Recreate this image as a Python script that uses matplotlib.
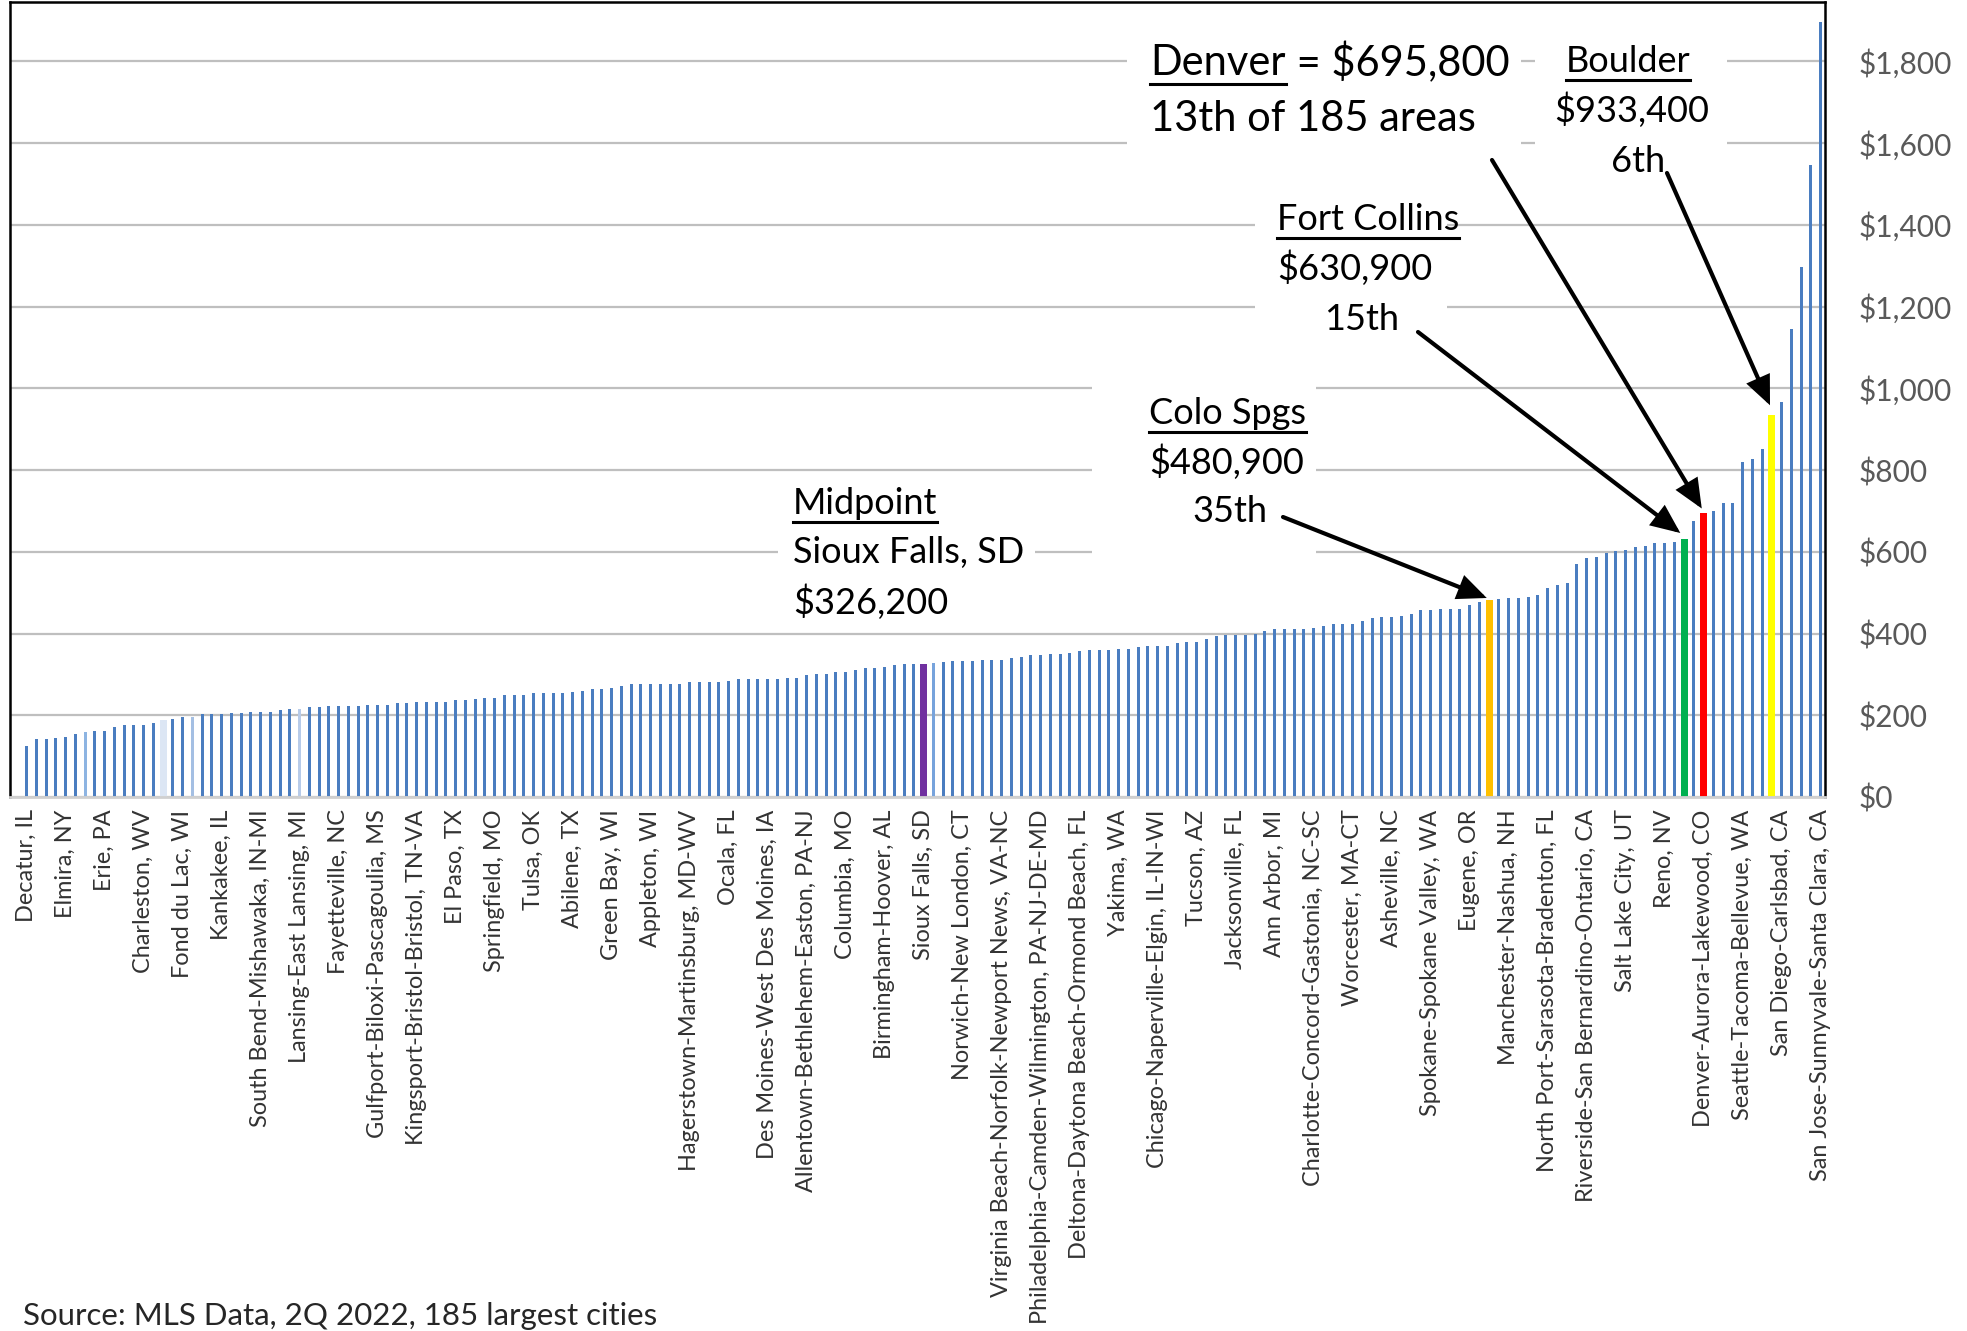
import matplotlib
matplotlib.use("Agg")
import matplotlib.pyplot as plt
from matplotlib.patches import Rectangle
from matplotlib.lines import Line2D
from matplotlib.ticker import FuncFormatter
import numpy as np

plt.rcParams['font.family'] = ['Lato', 'DejaVu Sans']

# Median home price by metro area, $ thousands, sorted low to high (185 areas)
median_price_k = [
    125, 141, 141, 145, 148, 155, 158, 161, 161, 172,
    175, 175, 175, 182, 188, 192, 196, 196, 202, 202,
    202, 205, 205, 209, 209, 209, 212, 216, 216, 219,
    219, 222, 222, 222, 222, 226, 226, 226, 229, 229,
    233, 233, 233, 233, 237, 237, 240, 243, 243, 250,
    250, 250, 254, 254, 254, 254, 257, 260, 264, 264,
    267, 271, 277, 277, 277, 277, 277, 277, 281, 281,
    281, 281, 285, 288, 288, 288, 288, 288, 291, 291,
    298, 302, 302, 305, 305, 311, 315, 315, 318, 322,
    325, 325, 326.2, 328, 330, 332, 332, 332, 335, 335,
    335, 339, 343, 347, 347, 350, 350, 353, 356, 360,
    360, 360, 363, 363, 366, 369, 369, 369, 377, 380,
    380, 386, 394, 397, 397, 397, 400, 407, 410, 410,
    410, 410, 414, 418, 424, 424, 424, 431, 438, 441,
    441, 444, 448, 457, 457, 461, 461, 461, 470, 478,
    480.9, 484, 486, 488, 490, 493, 512, 519, 523, 570,
    584, 588, 598, 601, 604, 611, 615, 621, 621, 625,
    630.9, 676, 695.8, 700, 720, 720, 820, 826, 851, 933.4,
    967, 1144, 1297, 1546, 1897,
]

# Every fourth area is named on the category axis
area_labels = [
    "Decatur, IL", "Elmira, NY", "Erie, PA", "Charleston, WV", "Fond du Lac, WI",
    "Kankakee, IL", "South Bend-Mishawaka, IN-MI", "Lansing-East Lansing, MI",
    "Fayetteville, NC", "Gulfport-Biloxi-Pascagoulia, MS", "Kingsport-Bristol-Bristol, TN-VA",
    "El Paso, TX", "Springfield, MO", "Tulsa, OK", "Abilene, TX", "Green Bay, WI",
    "Appleton, WI", "Hagerstown-Martinsburg, MD-WV", "Ocala, FL",
    "Des Moines-West Des Moines, IA", "Allentown-Bethlehem-Easton, PA-NJ", "Columbia, MO",
    "Birmingham-Hoover, AL", "Sioux Falls, SD", "Norwich-New London, CT",
    "Virginia Beach-Norfolk-Newport News, VA-NC", "Philadelphia-Camden-Wilmington, PA-NJ-DE-MD",
    "Deltona-Daytona Beach-Ormond Beach, FL", "Yakima, WA", "Chicago-Naperville-Elgin, IL-IN-WI",
    "Tucson, AZ", "Jacksonville, FL", "Ann Arbor, MI", "Charlotte-Concord-Gastonia, NC-SC",
    "Worcester, MA-CT", "Asheville, NC", "Spokane-Spokane Valley, WA", "Eugene, OR",
    "Manchester-Nashua, NH", "North Port-Sarasota-Bradenton, FL",
    "Riverside-San Bernardino-Ontario, CA", "Salt Lake City, UT", "Reno, NV",
    "Denver-Aurora-Lakewood, CO", "Seattle-Tacoma-Bellevue, WA", "San Diego-Carlsbad, CA",
    "San Jose-Sunnyvale-Santa Clara, CA",
]
label_step = 4

# Highlighted areas: index into median_price_k
MIDPOINT, COLO_SPGS, FORT_COLLINS, DENVER, BOULDER = 92, 150, 170, 172, 179
n_areas = len(median_price_k)

W, H = 1967, 1331
fig = plt.figure(figsize=(W / 100, H / 100), dpi=100)
ax = fig.add_axes([10 / W, (H - 797) / H, 1815 / W, 795 / H])

base_color = "#4a7dc0"
colors = [base_color] * n_areas
widths = [0.3] * n_areas
for i, c in {6: "#8db4e2", 17: "#a4bfe3", 28: "#b7cbe9", 93: "#77a3dc"}.items():
    colors[i] = c
colors[14] = "#dce6f4"
widths[14] = 0.7
for i, c in {MIDPOINT: "#7030a0", COLO_SPGS: "#ffc000", FORT_COLLINS: "#00b050",
             DENVER: "#ff0000", BOULDER: "#ffff00"}.items():
    colors[i] = c
    widths[i] = 0.72

x = np.arange(n_areas)
ax.bar(x, median_price_k, width=widths, color=colors, zorder=2, linewidth=0)

ax.set_xlim(-1.71, 184.44)
ax.set_ylim(0, 1945)

# Right-hand value axis
ax.yaxis.tick_right()
ax.set_yticks(np.arange(0, 1801, 200))
ax.yaxis.set_major_formatter(FuncFormatter(lambda v, p: f"${v:,.0f}"))
ax.tick_params(axis="y", length=0, pad=24, labelsize=21.5, labelcolor="#595959")
ax.set_axisbelow(True)
ax.yaxis.grid(True, color="#bfbfbf", linewidth=1.6)

ax.set_xticks(x[::label_step])
ax.set_xticklabels(area_labels, rotation=90, fontsize=16.9, color="#333333")
ax.tick_params(axis="x", length=0, pad=9)

for side in ("left", "top", "right"):
    ax.spines[side].set_color("black")
    ax.spines[side].set_linewidth(1.8)
ax.spines["bottom"].set_color("#d0d0d0")
ax.spines["bottom"].set_linewidth(2)


def fx(px):
    return px / W


def fy(py):
    return 1 - py / H


# White callout boxes sit over the gridlines
for x0, y0, x1, y1 in [(1127, 20, 1521, 170), (1535, 20, 1727, 185),
                       (1255, 195, 1447, 340), (1092, 380, 1316, 560),
                       (778, 475, 1035, 625)]:
    ax.add_patch(Rectangle((fx(x0), fy(y1)), (x1 - x0) / W, (y1 - y0) / H,
                           transform=fig.transFigure, facecolor="white",
                           edgecolor="none", zorder=1, clip_on=False))


def put(s, px, py, size, ha="left"):
    return ax.text(fx(px), fy(py), s, transform=fig.transFigure, fontsize=size,
                   ha=ha, va="center", color="black", zorder=5)


def money(v):
    return f"${v * 1000:,.0f}"


def ordinal(n):
    suf = "th" if 10 <= n % 100 <= 20 else {1: "st", 2: "nd", 3: "rd"}.get(n % 10, "th")
    return f"{n}{suf}"


big, small = 30, 26
underlined = []

t = put("Denver", 1150, 63, big)
underlined.append((t, 84))
denver_head = t
put(f"{ordinal(n_areas - DENVER)} of {n_areas} areas", 1150, 119, big)

underlined.append((put("Boulder", 1628, 62, small, ha="center"), 80))
put(money(median_price_k[BOULDER]), 1632, 110, small, ha="center")
put(ordinal(n_areas - BOULDER), 1638, 161, small, ha="center")

underlined.append((put("Fort Collins", 1277, 220, small), 238))
put(money(median_price_k[FORT_COLLINS]), 1277, 268, small)
put(ordinal(n_areas - FORT_COLLINS), 1324, 320, small)

underlined.append((put("Colo Spgs", 1149, 414, small), 432))
put(money(median_price_k[COLO_SPGS]), 1149, 462, small)
put(ordinal(n_areas - COLO_SPGS), 1192, 512, small)

underlined.append((put("Midpoint", 793, 504, small), 522))
put(area_labels[MIDPOINT // label_step], 793, 552, small)
put(money(median_price_k[MIDPOINT]), 793, 602, small)

fig.text(fx(23), fy(1316), "Source: MLS Data, 2Q 2022, 185 largest cities",
         fontsize=22.5, color="#262626", ha="left", va="center")

fig.canvas.draw()
renderer = fig.canvas.get_renderer()
bb = denver_head.get_window_extent(renderer)
put(f" = {money(median_price_k[DENVER])}", bb.x1, 63, big)

for txt, uy in underlined:
    b = txt.get_window_extent(renderer)
    ax.add_line(Line2D([b.x0 / W, b.x1 / W], [fy(uy), fy(uy)], transform=fig.transFigure,
                       color="black", linewidth=2.2, zorder=5, clip_on=False))

# Arrows from callouts to the highlighted bars
arrow_kw = dict(arrowstyle="-|>,head_length=0.8,head_width=0.35", mutation_scale=20,
                lw=3, color="black", shrinkA=0, shrinkB=0, joinstyle="miter")
for idx, start, dx, dy in [(COLO_SPGS, (1283, 517), -0.25, 6),
                           (FORT_COLLINS, (1418, 332), -0.4, 15),
                           (DENVER, (1492, 160), -0.2, 10),
                           (BOULDER, (1667, 173), -0.2, 25)]:
    ax.annotate("", xy=(idx + dx, median_price_k[idx] + dy), xycoords="data",
                xytext=(fx(start[0]), fy(start[1])), textcoords="figure fraction",
                arrowprops=arrow_kw, zorder=6, annotation_clip=False)

fig.savefig("out.png", dpi=100)
